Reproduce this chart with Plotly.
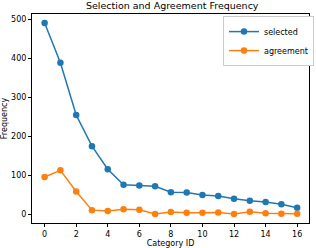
import plotly.graph_objects as go

categories = list(range(17))
selected = [490, 388, 254, 174, 115, 75, 73, 71, 56, 55, 49, 46, 39, 34, 31, 25, 16]
agreement = [95, 112, 58, 10, 8, 12, 11, 0, 5, 3, 3, 4, 0, 6, 2, 1, 1]
x_ticks = [0, 2, 4, 6, 8, 10, 12, 14, 16]
y_ticks = [0, 100, 200, 300, 400, 500]

fig = go.Figure()
fig.add_trace(go.Scatter(x=categories, y=selected, mode="lines+markers", name="selected",
                         line=dict(color="#1f77b4", width=1.5), marker=dict(size=6.5, color="#1f77b4")))
fig.add_trace(go.Scatter(x=categories, y=agreement, mode="lines+markers", name="agreement",
                         line=dict(color="#ff7f0e", width=1.5), marker=dict(size=6.5, color="#ff7f0e")))

font = dict(family="DejaVu Sans", size=8, color="#000")
fig.update_layout(
    width=316, height=248,
    margin=dict(l=32, r=2, t=14, b=25),
    paper_bgcolor="white", plot_bgcolor="white",
    font=font,
    title=dict(text="Selection and Agreement Frequency", x=0.545, xanchor="center",
               y=0.978, yanchor="middle", font=dict(family="DejaVu Sans", size=9.5, color="#000")),
    showlegend=True,
    legend=dict(x=1.018, y=0.99, xanchor="right", yanchor="top", bgcolor="white",
                bordercolor="#cccccc", borderwidth=1, font=dict(family="DejaVu Sans", size=8),
                tracegroupgap=0, itemwidth=30),
    xaxis=dict(range=[-0.8, 16.75], tickvals=x_ticks, showgrid=False, zeroline=False,
               showline=True, linecolor="black", linewidth=1, mirror=True, automargin=False,
               ticks="outside", ticklen=3, tickcolor="black",
               title=dict(text="Category ID", standoff=4, font=font)),
    yaxis=dict(range=[-23, 513], tickvals=y_ticks, showgrid=False, zeroline=False,
               showline=True, linecolor="black", linewidth=1, mirror=True, automargin=False,
               ticks="outside", ticklen=3, tickcolor="black",
               title=dict(text="Frequency", standoff=2, font=font)),
)
fig.write_html("out.html", config={"displayModeBar": False},
               post_script="document.body.style.margin='0';document.body.style.padding='0';")
